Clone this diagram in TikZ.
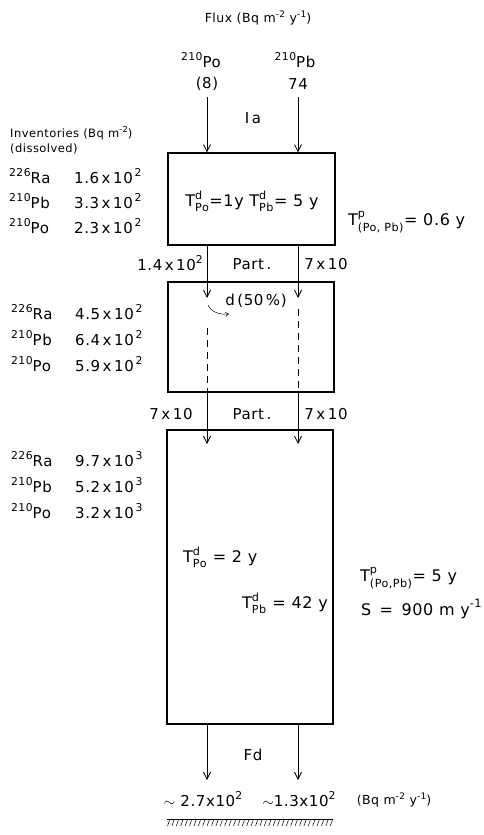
\documentclass[tikz,border=0pt]{standalone}
\usepackage{fontspec}
\usepackage{amsmath}
\setmainfont[LetterSpace=4]{DejaVu Sans}
\usetikzlibrary{arrows.meta}
\newcommand{\up}[1]{\raisebox{0.45em}{\scalebox{0.72}{#1}}}
\newcommand{\Tdp}[2]{$\text{T}^{\text{#1}}_{\text{#2}}$}
\begin{document}
\begin{tikzpicture}[x=1pt,y=-1pt,
  box/.style={draw, line width=1.2pt, inner sep=0pt},
  flow/.style={line width=0.6pt, -{Straight Barb[length=7pt,width=7pt,line width=0.8pt]}},
  dline/.style={line width=0.6pt, dash pattern=on 7pt off 5pt},
  txt/.style={inner sep=0pt, font=\fontsize{15}{17}\selectfont},
  big/.style={inner sep=0pt, font=\fontsize{16}{18}\selectfont},
  small/.style={inner sep=0pt, font=\fontsize{12.5}{14}\selectfont},
  inv/.style={inner sep=0pt, font=\fontsize{11.5}{13}\selectfont}]
\useasboundingbox (0,0) rectangle (483,835);
% boxes
\node[box, minimum width=167pt, minimum height=92pt] (b1) at (251.5,199) {};
\node[box, minimum width=166pt, minimum height=110pt] (b2) at (251,337) {};
\node[box, minimum width=166pt, minimum height=294pt] (b3) at (250,577) {};
% top labels
\node[small] (flux) at (258,18) {Flux (Bq m\up{-2} y\up{-1})};
\node[txt] (po) at (201,60) {\up{210}Po};
\node[txt] (poval) at (207,84) {(8)};
\node[txt] (pb) at (295,60) {\up{210}Pb};
\node[txt] (pbval) at (298,84) {74};
\node[txt] (ia) at (253,118) {I\,a};
% coordinates for flows
\coordinate (La) at (207,97);  \coordinate (Ra) at (298,97);
\coordinate (Lb) at (207,298); \coordinate (Rb) at (298,298);
\coordinate (Lc) at (207,328); \coordinate (Rc) at (298,309);
\coordinate (Ld) at (207,444); \coordinate (Rd) at (298,444);
\coordinate (Le) at (207,780); \coordinate (Re) at (298,780);
\coordinate (cs) at (208,305); \coordinate (ce) at (229,314);
% arrows
\draw[flow] (La) -- (La |- b1.north);
\draw[flow] (Ra) -- (Ra |- b1.north);
\draw[flow] (La |- b1.south) -- (Lb);
\draw[flow] (Ra |- b1.south) -- (Rb);
\draw[dline] (Lc) -- (Lc |- b2.south);
\draw[dline] (Rc) -- (Rc |- b2.south);
\draw[flow] (Lc |- b2.south) -- (Ld);
\draw[flow] (Rc |- b2.south) -- (Rd);
\draw[flow] (Ld |- b3.south) -- (Le);
\draw[flow] (Rd |- b3.south) -- (Re);
\draw[line width=0.5pt, -{Straight Barb[length=3pt,width=4pt]}] (cs) .. controls (211,312) and (220,315) .. (ce);
\node[txt] (d50) at (256,301) {d\,(50\,\%)};
% part labels
\node[txt] (p1l) at (170,263) {1.4\,x\,10\up{2}};
\node[txt] (p1m) at (252,264) {Part\,.};
\node[txt] (p1r) at (326,264) {7\,x\,10};
\node[txt] (p2l) at (171,414) {7\,x\,10};
\node[txt] (p2m) at (252,414) {Part\,.};
\node[txt] (p2r) at (326,414) {7\,x\,10};
% inventories
\node[inv, anchor=west] (invt) at (10,133) {Inventories (Bq m\up{-2})};
\node[inv, anchor=west] (diss) at (10,149) {(dissolved)};
\node[txt, anchor=west] (ra1) at (9,176) {\up{226}Ra};
\node[txt, anchor=west] (pb1) at (9,201) {\up{210}Pb};
\node[txt, anchor=west] (po1) at (9,226) {\up{210}Po};
\node[txt, anchor=west] (ra1v) at (74,176) {1.6\,x\,10\up{\,2}};
\node[txt, anchor=west] (pb1v) at (74,201) {3.3\,x\,10\up{\,2}};
\node[txt, anchor=west] (po1v) at (74,226) {2.3\,x\,10\up{\,2}};
\node[txt, anchor=west] (ra2) at (11,312) {\up{226}Ra};
\node[txt, anchor=west] (pb2) at (11,338) {\up{210}Pb};
\node[txt, anchor=west] (po2) at (11,364) {\up{210}Po};
\node[txt, anchor=west] (ra2v) at (75,312) {4.5\,x\,10\up{\,2}};
\node[txt, anchor=west] (pb2v) at (75,338) {6.4\,x\,10\up{\,2}};
\node[txt, anchor=west] (po2v) at (75,364) {5.9\,x\,10\up{\,2}};
\node[txt, anchor=west] (ra3) at (11,459) {\up{226}Ra};
\node[txt, anchor=west] (pb3) at (11,485) {\up{210}Pb};
\node[txt, anchor=west] (po3) at (11,511) {\up{210}Po};
\node[txt, anchor=west] (ra3v) at (75,459) {9.7\,x\,10\up{\,3}};
\node[txt, anchor=west] (pb3v) at (75,485) {5.2\,x\,10\up{\,3}};
\node[txt, anchor=west] (po3v) at (75,511) {3.2\,x\,10\up{\,3}};
% residence times
\node[big] (t1) at (252,201) {\Tdp{d}{Po}=1y \Tdp{d}{Pb}= 5 y};
\node[big, anchor=west] (tp1) at (348,222) {\Tdp{p}{(Po, Pb)}= 0.6 y};
\node[big, anchor=west] (t3a) at (183,557) {\Tdp{d}{Po} = 2 y};
\node[big, anchor=east] (t3b) at (328,603) {\Tdp{d}{Pb} = 42 y};
\node[big, anchor=west] (tp3) at (360,578) {\Tdp{p}{(Po,Pb)}= 5 y};
\node[big, anchor=west] (s3) at (361,609) {S\, =\, 900 m y\up{-1}};
% bottom
\node[txt] (fd) at (253,755) {Fd};
\node[txt] (out1) at (203,799) {$\sim$ 2.7x10\up{2}};
\node[txt] (out2) at (299,799) {$\sim$1.3x10\up{2}};
\node[small] (unit) at (394,800) {(Bq m\up{-2} y\up{-1})};
\coordinate (gl) at (167,819); \coordinate (gr) at (333,819);
\draw[line width=0.8pt] (gl) -- (gr);
\foreach \i in {0,...,37} \draw[line width=0.5pt] ([xshift=\i*4.4pt+3pt]gl) -- ++(-2.5,7);
\end{tikzpicture}
\end{document}
